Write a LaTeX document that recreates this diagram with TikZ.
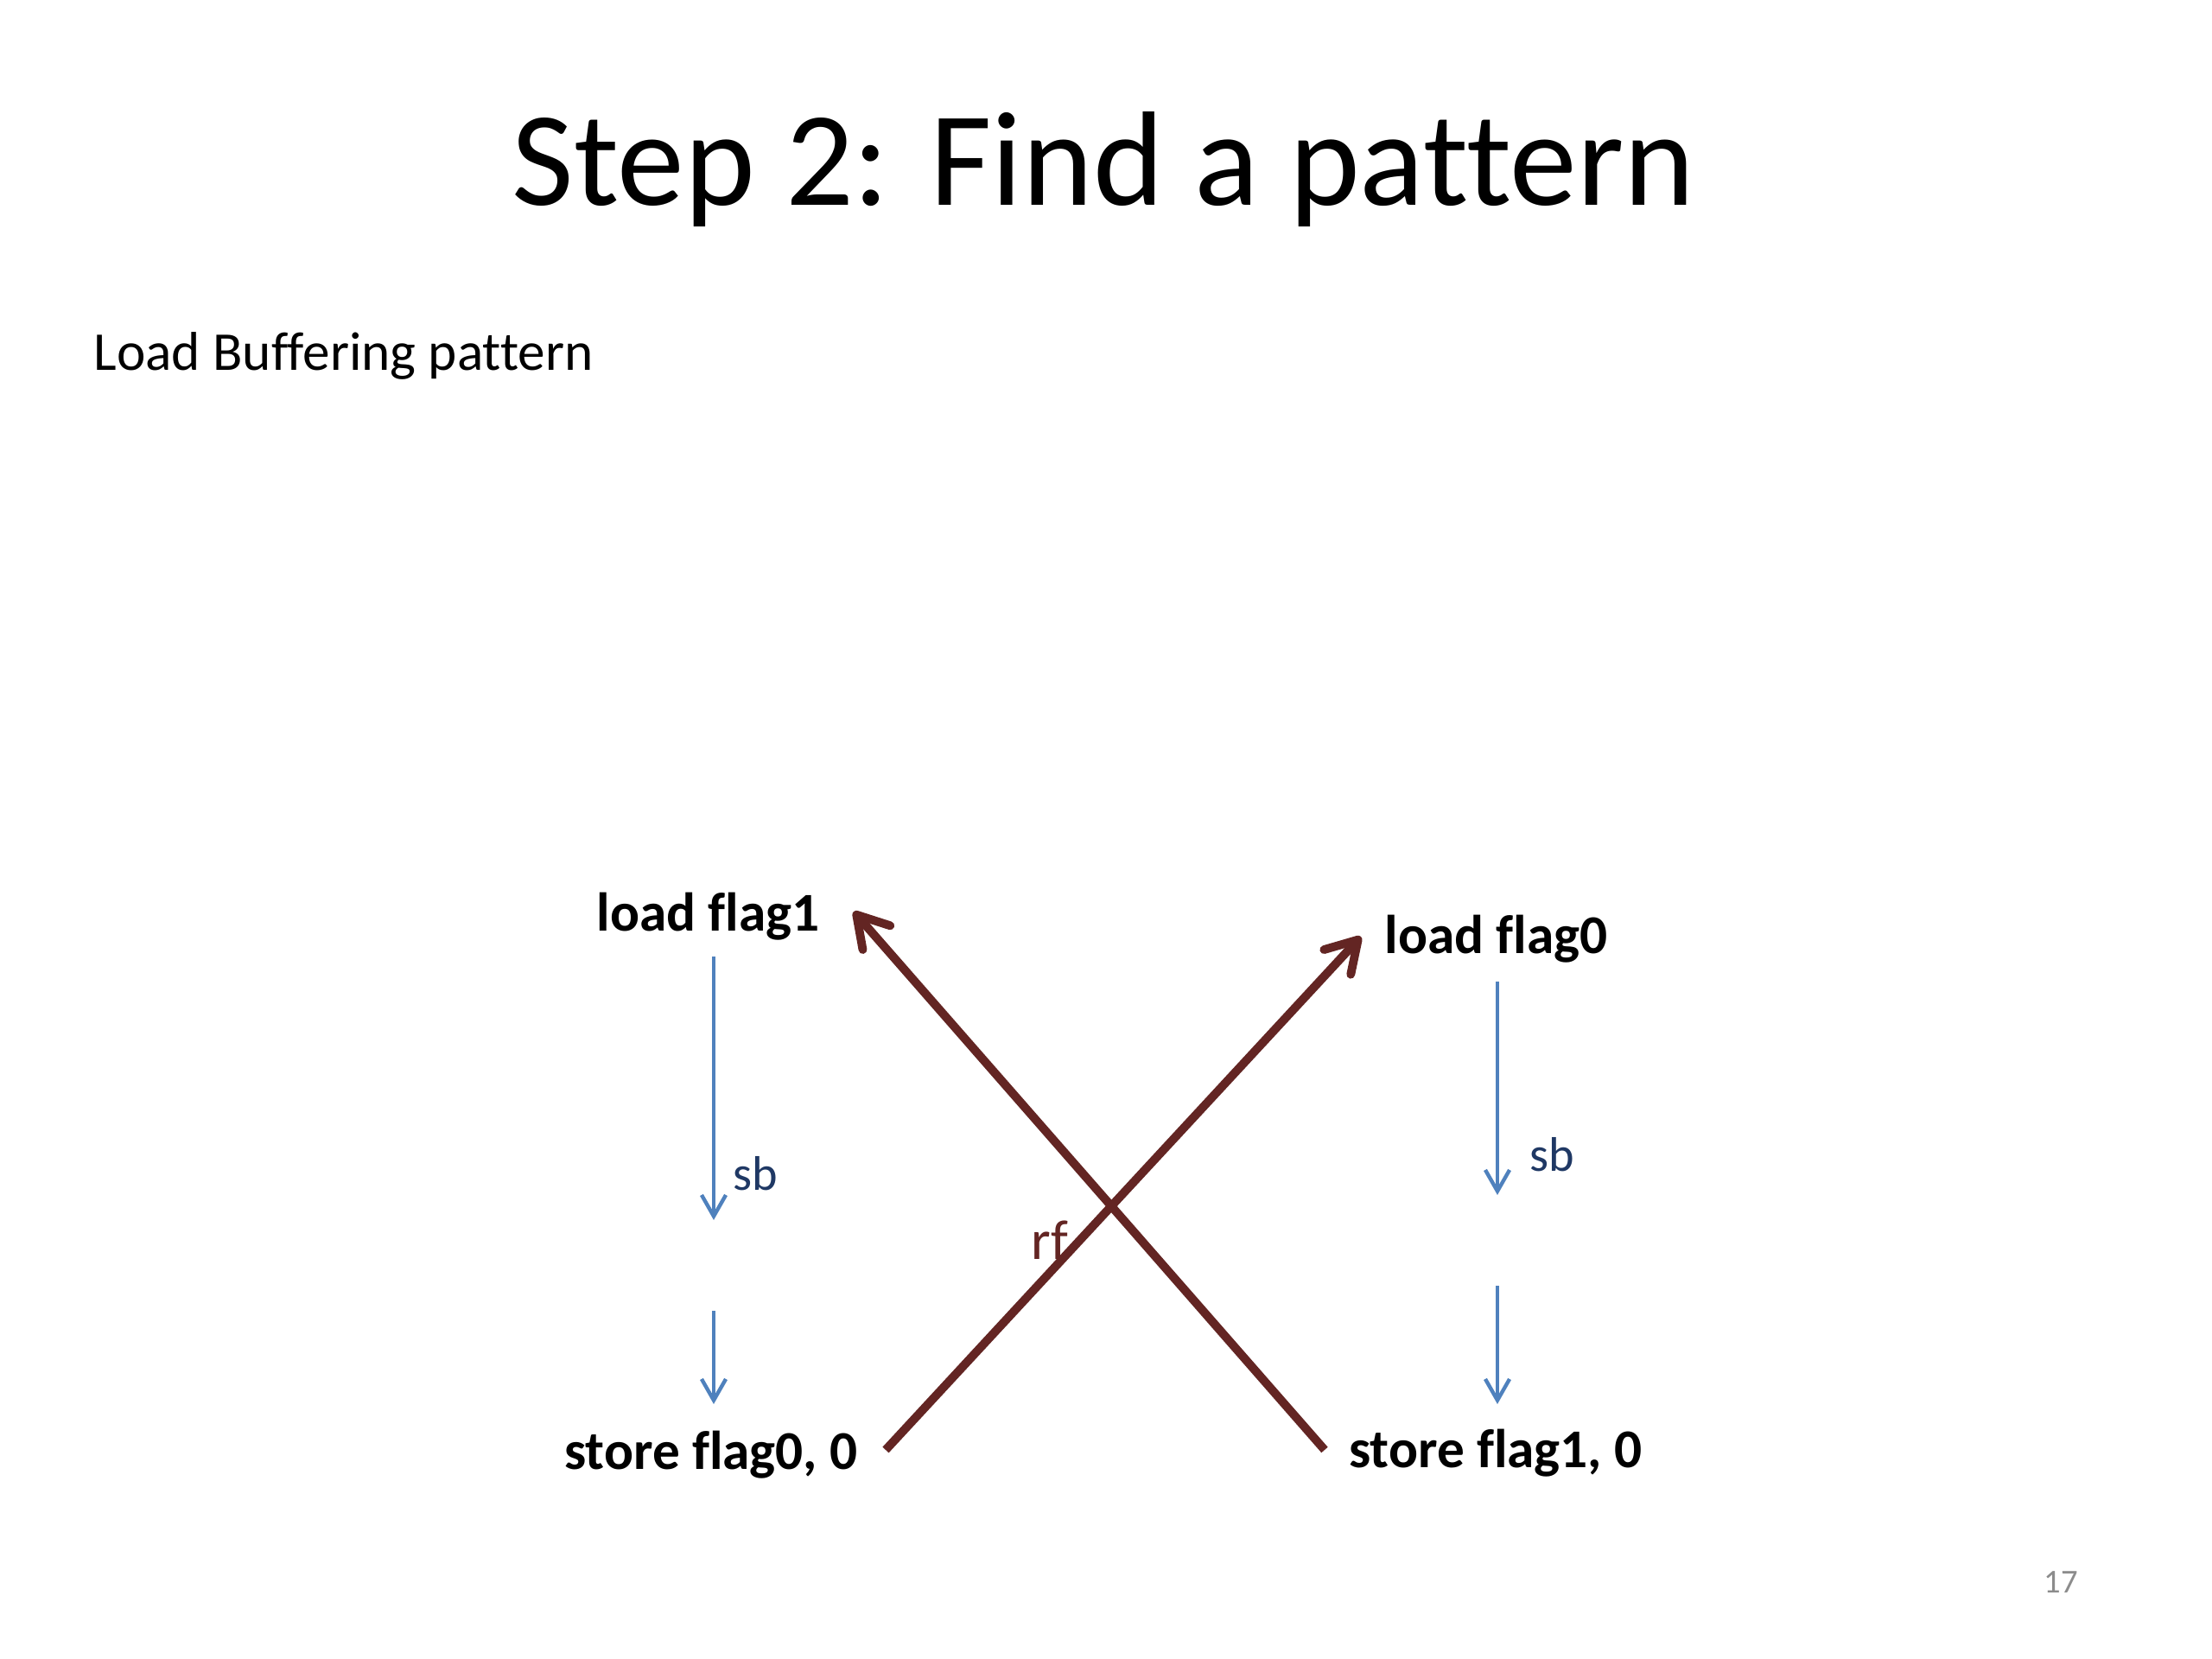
\documentclass[tikz,border=0pt]{standalone}
\usepackage{fontspec}
\setmainfont{Carlito}[Ligatures={NoCommon,NoContextual}]
\usepackage{xcolor}
\usepackage{tikz}
\usetikzlibrary{positioning}
\usetikzlibrary{arrows.meta}
\pgfdeclarelayer{nodelayer}
\pgfdeclarelayer{edgelayer}
\pgfsetlayers{nodelayer,edgelayer,main}
\definecolor{sbblue}{RGB}{79,129,189}
\definecolor{sbtext}{RGB}{31,56,100}
\definecolor{rfred}{RGB}{99,37,35}
\tikzset{
    none/.style = {inner sep=0pt},
    instr/.style = {inner sep=0pt, anchor=base, font=\fontsize{18}{22}\selectfont\bfseries},
    lbl/.style = {inner sep=0pt, anchor=base west}
}

\begin{document}
\begin{tikzpicture}
    % Page size of the slide
    \useasboundingbox (0, 0) rectangle (25.6, -19.2);

    \begin{pgfonlayer}{nodelayer}
        \node [inner sep=0pt, anchor=base, font=\fontsize{44.3}{52}\selectfont] (title) at (12.77, -2.38) {Step 2: Find a pattern};
        \node [lbl, font=\fontsize{18}{22}\selectfont] (sub) at (1.08, -4.29) {Load Buffering pattern};
        \node [style=instr] (0) at (8.195, -10.77) {load flag1};
        \node [style=instr] (1) at (17.315, -11.03) {load flag0};
        \node [style=instr] (2) at (8.23, -17.00) {store flag0, 0};
        \node [style=instr] (3) at (17.31, -16.98) {store flag1, 0};
        \node [style=none] (4) at (8.26, -11.07) {};
        \node [style=none] (5) at (8.26, -14.12) {};
        \node [style=none] (6) at (8.26, -15.17) {};
        \node [style=none] (7) at (8.26, -16.25) {};
        \node [style=none] (8) at (17.33, -11.36) {};
        \node [style=none] (9) at (17.33, -13.83) {};
        \node [style=none] (10) at (17.33, -14.88) {};
        \node [style=none] (11) at (17.33, -16.25) {};
        \node [style=none] (12) at (15.33, -16.78) {};
        \node [style=none] (13) at (9.88, -10.55) {};
        \node [style=none] (14) at (10.25, -16.78) {};
        \node [style=none] (15) at (15.75, -10.84) {};
        \node [lbl, text=sbtext, font=\fontsize{16}{19}\selectfont] (16) at (8.48, -13.77) {sb};
        \node [lbl, text=sbtext, font=\fontsize{16}{19}\selectfont] (17) at (17.70, -13.55) {sb};
        \node [lbl, text=rfred, font=\fontsize{18.5}{22}\selectfont] (18) at (11.93, -14.57) {rf};
        \node [lbl, text=black!45, font=\fontsize{11}{13}\selectfont] (19) at (23.65, -18.43) {17};
    \end{pgfonlayer}
    \begin{pgfonlayer}{edgelayer}
        \draw [-{Straight Barb[length=7pt, width=8pt]}, sbblue, line width=1.25pt] (4.center) to (5.center);
        \draw [-{Straight Barb[length=7pt, width=8pt]}, sbblue, line width=1.25pt] (6.center) to (7.center);
        \draw [-{Straight Barb[length=7pt, width=8pt]}, sbblue, line width=1.25pt] (8.center) to (9.center);
        \draw [-{Straight Barb[length=7pt, width=8pt]}, sbblue, line width=1.25pt] (10.center) to (11.center);
        \draw [-{Straight Barb[length=10pt, width=12pt, round]}, rfred, line width=2.8pt] (12.center) to (13.center);
        \draw [-{Straight Barb[length=10pt, width=12pt, round]}, rfred, line width=2.8pt] (14.center) to (15.center);
    \end{pgfonlayer}
\end{tikzpicture}
\end{document}
